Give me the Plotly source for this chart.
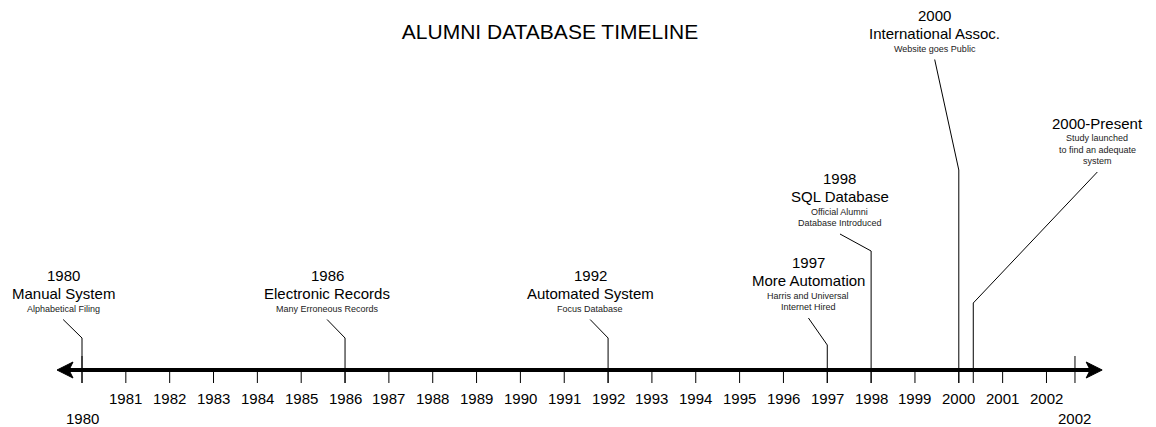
import plotly.graph_objects as go

# ---------------- data ----------------
event_years = [1980, 1986, 1992, 1997, 1998, 2000, 2000.33]
event_heads = ["1980", "1986", "1992", "1997", "1998", "2000", "2000-Present"]
event_names = ["Manual System", "Electronic Records", "Automated System",
               "More Automation", "SQL Database", "International Assoc.", ""]
event_notes = [["Alphabetical Filing"],
               ["Many Erroneous Records"],
               ["Focus Database"],
               ["Harris and Universal", "Internet Hired"],
               ["Official Alumni", "Database Introduced"],
               ["Website goes Public"],
               ["Study launched", "to find an adequate", "system"]]
tick_years = list(range(1981, 2003))
tick_labels = [str(y) for y in tick_years]
end_years = [1980, 2002.65]
end_labels = ["1980", "2002"]
axis_years = [1979.43, 2003.27]
title_text = "ALUMNI DATABASE TIMELINE"

# ---------------- layout / style ----------------
W, H = 1156, 427
PX_PER_YEAR = 43.84
X0_PX = 82  # pixel of 1980
x_range = [1980 - X0_PX / PX_PER_YEAR, 1980 + (W - X0_PX) / PX_PER_YEAR]

label_dx = [-0.43, -0.41, -0.41, -0.43, -0.71, -0.55, 2.83]   # label centre offset (years)
label_top = [275, 275, 275, 262, 178, 15, 123]               # y of first text line (px)
elbow_y = [338, 338, 338, 345, 251, 170, 303]                 # leader elbow y (px)

AXIS_Y = 370
TICK_BOTTOM = 383
TICK_LABEL_Y = 398
END_LABEL_Y = 418
FONT = "Liberation Sans, Arial, sans-serif"
BIG = 15
SMALL = 9

fig = go.Figure()
annotations = []
shapes = []

def px2yr(px):
    return px / PX_PER_YEAR

# axis line
arrow_len = px2yr(16)
notch = px2yr(12)
fig.add_trace(go.Scatter(x=[axis_years[0] + notch, axis_years[1] - notch], y=[AXIS_Y, AXIS_Y],
                         mode="lines", line=dict(color="black", width=4), hoverinfo="skip"))
# arrowheads
for tip, sgn in [(axis_years[0], 1), (axis_years[1], -1)]:
    back = tip + sgn * arrow_len
    nt = tip + sgn * notch
    shapes.append(dict(type="path", xref="x", yref="y",
                       path=f"M {tip},{AXIS_Y} L {back},{AXIS_Y - 8} L {nt},{AXIS_Y} L {back},{AXIS_Y + 8} Z",
                       fillcolor="black", line=dict(color="black", width=1)))

# regular ticks
tx, ty = [], []
for yr in tick_years:
    tx += [yr, yr, None]
    ty += [AXIS_Y, TICK_BOTTOM, None]
for yr in end_years:
    tx += [yr, yr, None]
    ty += [AXIS_Y - 14, TICK_BOTTOM, None]
fig.add_trace(go.Scatter(x=tx, y=ty, mode="lines", line=dict(color="black", width=1),
                         hoverinfo="skip"))

for yr, lab in zip(tick_years, tick_labels):
    annotations.append(dict(x=yr, y=TICK_LABEL_Y, text=lab, showarrow=False,
                            xanchor="center", yanchor="middle",
                            font=dict(family=FONT, size=BIG, color="black")))
for yr, lab in zip(end_years, end_labels):
    annotations.append(dict(x=yr, y=END_LABEL_Y, text=lab, showarrow=False,
                            xanchor="center", yanchor="middle",
                            font=dict(family=FONT, size=BIG, color="black")))

# events
for i, yr in enumerate(event_years):
    lx = yr + label_dx[i]
    y = label_top[i]
    annotations.append(dict(x=lx, y=y, text=event_heads[i], showarrow=False,
                            xanchor="center", yanchor="middle",
                            font=dict(family=FONT, size=BIG, color="black")))
    if event_names[i]:
        y += 18.5
        annotations.append(dict(x=lx, y=y, text=event_names[i], showarrow=False,
                                xanchor="center", yanchor="middle",
                                font=dict(family=FONT, size=BIG, color="black")))
    for j, note in enumerate(event_notes[i]):
        y += 15 if j == 0 else 11.5
        annotations.append(dict(x=lx, y=y, text=note, showarrow=False,
                                xanchor="center", yanchor="middle",
                                font=dict(family=FONT, size=SMALL, color="#222222")))
    start_y = y + 11
    fig.add_trace(go.Scatter(x=[lx, yr, yr], y=[start_y, elbow_y[i], TICK_BOTTOM],
                             mode="lines", line=dict(color="black", width=1),
                             hoverinfo="skip"))

fig.update_layout(
    width=W, height=H,
    margin=dict(l=0, r=0, t=0, b=0),
    paper_bgcolor="white", plot_bgcolor="white",
    showlegend=False,
    title=dict(text=title_text, x=550 / W, xanchor="center", y=1 - 32 / H, yanchor="middle",
               font=dict(family=FONT, size=21, color="black")),
    xaxis=dict(range=x_range, visible=False, fixedrange=True),
    yaxis=dict(range=[H, 0], visible=False, fixedrange=True),
    annotations=annotations,
    shapes=shapes,
)

fig.write_html("out.html", config={"displayModeBar": False},
               post_script="document.body.style.margin='0';document.body.style.overflow='hidden';")
